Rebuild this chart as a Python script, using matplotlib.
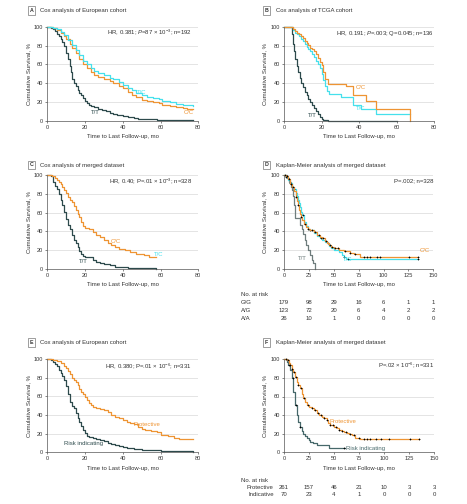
import numpy as np
import matplotlib
matplotlib.use("Agg")
import matplotlib.pyplot as plt
from matplotlib.transforms import blended_transform_factory

plt.rcParams['font.family'] = ['Liberation Sans', 'DejaVu Sans']
plt.rcParams['mathtext.fontset'] = 'custom'
plt.rcParams['mathtext.rm'] = 'Liberation Sans'
plt.rcParams['mathtext.it'] = 'Liberation Sans:italic'

# ---- Data ----
# Panel A: European cohort
a_tt_t = [0, 2, 3, 4, 5, 6, 7, 8, 9, 10, 11, 12, 12.5, 13, 14, 15, 16, 17, 18, 19, 20, 21, 22, 23, 25, 27,
          29, 31, 33, 35, 37, 40, 43, 46, 48, 52, 58, 63, 70, 77]
a_tt_s = [100, 99, 98, 96, 93, 90, 87, 84, 80, 72, 66, 58, 52, 45, 40, 37, 33, 30, 27, 24, 21, 19, 17, 16, 15, 13,
          11.5, 10, 8.5, 7, 6, 4.5, 3.5, 2.5, 2, 1.5, 1.2, 0.8, 0.4, 0.3]
a_cc_t = [0, 3, 5, 7, 9, 10, 12, 13, 15, 17, 19, 21, 23, 25, 27, 30, 33, 35, 38, 40, 43, 45, 47, 50, 53, 56,
          59, 61, 65, 68, 72, 74, 77]
a_cc_s = [100, 99, 97, 94, 90, 87, 82, 78, 72, 66, 60, 56, 52, 49, 47, 45, 42, 40, 37, 35, 31, 27, 25, 22, 21, 20,
          19, 17, 16, 15, 14, 12.5, 12.5]
a_tc_t = [0, 3, 5, 7, 9, 11, 13, 15, 17, 19, 21, 23, 25, 27, 30, 33, 35, 38, 40, 43, 45, 47, 50, 53, 56, 59,
          61, 65, 68, 72, 74, 77]
a_tc_s = [100, 99, 98, 95, 91, 86, 81, 75, 70, 64, 60, 56, 53, 51, 49, 46, 44, 41, 38, 35, 33, 30, 27, 25, 24, 23,
          21, 20, 18, 17, 16.5, 16]

# Panel B: TCGA cohort
b_tt_t = [0, 3.8, 4.2, 4.8, 5.4, 6, 6.8, 7.6, 8.4, 9.2, 10, 11, 12, 13, 14, 15, 16, 17, 18, 19, 20, 21, 22,
          23.5, 60]
b_tt_s = [100, 100, 93, 82, 74, 66, 58, 52, 46, 40, 36, 31, 27, 23, 20, 17, 14, 10, 7, 4, 2, 1, 0.5, 0, 0]
b_cc_t = [0, 4, 5, 6, 7, 8, 9, 10, 11, 12, 13, 14, 15, 16, 17, 18, 19, 20, 21, 22, 23.6, 33, 37, 43.5, 49.3,
          67.4]
b_cc_s = [100, 100, 98, 96, 94, 92, 90, 88, 85, 83, 81, 78, 76, 74, 71, 67, 63, 59, 52, 45, 39, 37, 27, 21, 13, 0]
b_tc_t = [0, 4, 5, 6, 7, 8, 9, 10, 11, 12, 13, 14, 15, 16, 17, 18, 19, 20, 21, 22, 23, 24, 30.5, 36.8, 41,
          49.2, 67.4]
b_tc_s = [100, 100, 97, 94, 92, 90, 87, 85, 82, 79, 77, 74, 71, 68, 64, 60, 56, 50, 43, 37, 32, 28, 25, 17, 12,
          7, 7]

# Panel C: merged dataset (Cox)
c_tt_t = [0, 2, 3, 4, 5, 6, 7, 8, 9, 10, 11, 12, 13, 14, 15, 16, 17, 18, 19, 20, 22, 24, 26, 28, 30, 33, 36,
          39, 43, 48, 53, 57.7]
c_tt_s = [100, 99, 93, 89, 85, 80, 74, 68, 61, 53, 47, 42, 36, 31, 27, 23, 19, 16, 14, 13, 12, 9, 7.5, 6, 5, 3.5,
          2, 1.5, 1, 0.6, 0.3, 0.2]
c_cc_t = [0, 2.5, 4, 5, 6, 7, 8, 9, 10, 11, 12, 13, 14, 15, 16, 17, 18, 19, 20, 22, 24, 26, 28, 30, 32, 34,
          36, 38, 41, 44, 47, 51, 54, 57.7]
c_cc_s = [100, 99, 97, 95, 93, 91, 88, 84, 81, 77, 74, 71, 67, 63, 59, 55, 50, 46, 44, 42, 39, 36, 34, 31, 28, 25,
          23, 21, 20, 18, 16, 15, 12.5, 12.5]

# Panel D: merged dataset (Kaplan-Meier)
d_tt_t = [0, 3, 5, 7, 8, 9, 10, 11, 16.5, 18, 19.5, 21, 22.5, 24, 26, 28, 29.5, 31.5]
d_tt_s = [100, 97, 93, 88, 84, 78, 68, 54, 47, 42, 37, 31, 25, 20, 15, 9, 6, 0]
d_cc_t = [0, 2, 4, 6, 8, 10, 12, 13, 14, 15, 16, 17, 18, 20, 22, 24, 26, 30, 33, 36, 38, 41, 43, 45, 47, 50,
          55, 60, 66, 70, 76, 135]
d_cc_s = [100, 99, 96, 91, 87, 83, 77, 73, 68, 63, 59, 55, 52, 48, 45, 43, 41.5, 39, 36, 34, 32.5, 30, 28, 25,
          23.5, 22, 20.5, 19, 17, 16, 13, 13]
d_tc_t = [0, 2, 4, 6, 8, 10, 12, 13, 14, 15, 16, 17, 18, 20, 22, 24, 26, 30, 33, 36, 38, 41, 43, 45, 47, 50,
          55, 58, 60, 62, 135]
d_tc_s = [100, 98, 95, 92, 88, 85, 81, 78, 74, 70, 66, 61, 57, 50, 46, 43, 41, 38.5, 35, 33, 31, 29, 27, 24, 22,
          20, 18, 15, 12, 10.5, 10.5]
d_cc_cens = [1, 3, 5, 7, 9, 12, 14, 17, 21, 24, 28, 31, 35, 39, 42, 46, 48, 51, 54, 61, 66, 71, 80, 83, 86, 93,
             96, 126, 135]
d_tc_cens = [2, 6, 10, 19, 26, 37, 44, 60, 64, 135]

d_risk_x = [0, 25, 50, 75, 100, 125, 150]
d_risk_rows = ['G/G', 'A/G', 'A/A']
d_risk_gg = [179, 98, 29, 16, 6, 1, 1]
d_risk_ag = [123, 72, 20, 6, 4, 2, 2]
d_risk_aa = [26, 10, 1, 0, 0, 0, 0]

# Panel E: European cohort, protective vs risk indicating
e_risk_t = [0, 2, 3, 4, 5, 6, 7, 8, 9, 10, 11, 12, 13, 14, 15, 16, 17, 18, 19, 20, 21, 22, 24, 26, 28, 30, 32,
            34, 36, 38, 40, 42, 44, 46, 50, 55, 60, 65, 70, 77]
e_risk_s = [100, 99, 97, 95, 92, 88, 85, 82, 77, 71, 63, 54, 50, 47, 42, 37, 32, 28, 24, 21, 18, 16, 15, 14, 13,
            12, 10, 9, 8, 7, 6, 5, 4.5, 3.5, 2.5, 2, 1.5, 1.2, 1, 0.8]
e_prot_t = [0, 3, 5, 7, 9, 10, 11, 12, 13, 14, 15, 16, 17, 18, 19, 20, 21, 22, 23, 24, 26, 28, 30, 32, 34, 36,
            38, 40, 42, 44, 46, 48, 50, 52, 55, 58, 60, 64, 67, 70, 77]
e_prot_s = [100, 99, 98, 96, 93, 90, 87, 84, 80, 77, 75, 72, 68, 65, 62, 59, 56, 53, 51, 49, 48, 46, 45, 43, 40,
            38, 37, 35, 33, 31, 30, 27, 25, 24, 23, 22, 19, 18, 15, 14, 14]

# Panel F: merged dataset, protective vs risk indicating
f_risk_t = [0, 3, 4.3, 6, 7.7, 9.3, 11, 12.7, 14.3, 16, 17.5, 19.3, 21, 22.7, 24.5, 26, 28.5, 31, 32.7, 45.3, 61]
f_risk_s = [100, 97, 94, 88.5, 80, 65, 51, 40, 33, 27.6, 23, 20, 17.5, 15.8, 13.5, 11.5, 10.5, 9.7, 7.9, 4.3, 4.3]
f_prot_t = [0, 3, 5, 6, 8, 9.3, 11, 12.7, 14, 16, 18, 19.3, 21, 22.7, 25, 27.7, 30, 32.7, 35, 37.7, 40, 42.7,
            44, 46, 50, 52.7, 55, 57.7, 60, 62.7, 65, 67.7, 71, 76, 135]
f_prot_s = [100, 99, 96, 94, 90, 86.7, 81, 76, 72, 69, 63, 58, 54, 51, 49, 48, 45, 42, 40, 38, 36.5, 35, 32, 29,
            27, 25.8, 24.5, 23, 21.5, 20.4, 19.5, 18.6, 15.8, 14.3, 14.3]
f_prot_cens = [2, 4, 6, 8, 10, 12, 14, 17, 20, 24, 28, 31, 34, 37, 40, 43, 46, 49, 52, 55, 58, 62, 66, 70, 75,
               80, 83, 86, 92, 97, 105, 126, 135]
f_risk_cens = [5, 9, 12, 16, 60]

f_risk_x = [0, 25, 50, 75, 100, 125, 150]
f_risk_rows = ['Protective', 'Indicative']
f_risk_prot = [261, 157, 46, 21, 10, 3, 3]
f_risk_ind = [70, 23, 4, 1, 0, 0, 0]

# ---- Style ----
ORANGE = '#EE9433'
CYAN = '#45E0EC'
DARK = '#2D4A4C'
GRAY = '#6F7D7D'
TEAL = '#46686A'
TXT = '#333333'
FS = 4.3
W, H = 467, 504

fig = plt.figure(figsize=(W / 100, H / 100), dpi=100)


def px_axes(left, right, top, bottom):
    # axes from pixel box (top-left origin)
    return fig.add_axes([left / W, 1 - bottom / H, (right - left) / W, (bottom - top) / H])


def fy(p):
    return 1 - p / H


def setup(ax, xmax, xstep):
    ax.set_xlim(0, xmax)
    ax.set_ylim(0, 100)
    ax.set_xticks(np.arange(0, xmax + 1, xstep))
    ax.set_yticks([0, 20, 40, 60, 80, 100])
    ax.grid(axis='y', color='#d9d9d9', lw=0.5)
    ax.set_axisbelow(True)
    for s in ['top', 'right']:
        ax.spines[s].set_visible(False)
    for s in ['left', 'bottom']:
        ax.spines[s].set_color('#555555')
        ax.spines[s].set_linewidth(0.5)
    ax.tick_params(length=1.5, width=0.5, labelsize=4.1, pad=1.5, colors='#555555', labelcolor=TXT)
    ax.set_ylabel('Cumulative Survival, %', fontsize=FS, color=TXT, labelpad=2)
    ax.set_xlabel('Time to Last Follow-up, mo', fontsize=FS, color=TXT, labelpad=3)


def curve(ax, t, s, color, cens=None):
    ax.step(t, s, where='post', color=color, lw=0.9, clip_on=False)
    if cens is not None:
        t = np.array(t)
        s = np.array(s)
        idx = np.searchsorted(t, cens, side='right') - 1
        ax.plot(cens, s[idx], '+', color='black', ms=1.8, mew=0.5, clip_on=False)


def title(xbox, y, letter, text):
    fig.text(xbox / W, fy(y), letter, fontsize=3.8, fontweight='bold', color=TXT, ha='center', va='center',
             bbox=dict(boxstyle='square,pad=0.35', fc='white', ec='#777777', lw=0.5))
    fig.text((xbox + 9) / W, fy(y), text, fontsize=FS, color=TXT, ha='left', va='center')


# ---- Panel A ----
ax = px_axes(47.3, 198.3, 27, 120.7)
setup(ax, 80, 20)
curve(ax, a_tt_t, a_tt_s, DARK)
curve(ax, a_cc_t, a_cc_s, ORANGE)
curve(ax, a_tc_t, a_tc_s, CYAN)
ax.text(50, 30, 'T/C', color=CYAN, fontsize=FS, ha='center', va='center')
ax.text(75, 8.5, 'C/C', color=ORANGE, fontsize=FS, ha='center', va='center')
ax.text(25.6, 8.5, 'T/T', color=DARK, fontsize=FS, ha='center', va='center')
ax.text(0.96, 0.947, r'HR, 0.381; $P$=87 × 10$^{-3}$; n=192', transform=ax.transAxes, fontsize=FS,
        color=TXT, ha='right', va='center')
title(31.5, 10.5, 'A', 'Cox analysis of European cohort')

# ---- Panel B ----
ax = px_axes(284, 434, 27, 120.7)
setup(ax, 80, 20)
curve(ax, b_tt_t, b_tt_s, DARK)
curve(ax, b_tc_t, b_tc_s, CYAN)
curve(ax, b_cc_t, b_cc_s, ORANGE)
ax.text(41, 35.6, 'C/C', color=ORANGE, fontsize=FS, ha='center', va='center')
ax.text(41, 12.5, 'T/C', color=CYAN, fontsize=FS, ha='center', va='center')
ax.text(15, 6, 'T/T', color=DARK, fontsize=FS, ha='center', va='center')
ax.text(1.0, 0.935, r'HR, 0.191; $P$=.003; Q=0.045; n=136', transform=ax.transAxes, fontsize=FS,
        color=TXT, ha='right', va='center')
title(266.5, 10.5, 'B', 'Cox analysis of TCGA cohort')

# ---- Panel C ----
ax = px_axes(47.3, 198.3, 175.3, 268.7)
setup(ax, 80, 20)
curve(ax, c_tt_t, c_tt_s, DARK)
curve(ax, c_cc_t, c_cc_s, ORANGE)
ax.text(36.3, 29, 'C/C', color=ORANGE, fontsize=FS, ha='center', va='center')
ax.text(19, 7.5, 'T/T', color=DARK, fontsize=FS, ha='center', va='center')
ax.text(58.8, 15, 'T/C', color=CYAN, fontsize=FS, ha='center', va='center')
ax.text(0.958, 0.94, r'HR, 0.40; P=.01 × 10$^{-3}$; n=328', transform=ax.transAxes, fontsize=FS,
        color=TXT, ha='right', va='center')
title(31.5, 165, 'C', 'Cox analysis of merged dataset')

# ---- Panel D ----
ax = px_axes(284, 433.3, 175.3, 268.7)
setup(ax, 150, 25)
curve(ax, d_tt_t, d_tt_s, GRAY)
curve(ax, d_tc_t, d_tc_s, CYAN, d_tc_cens)
curve(ax, d_cc_t, d_cc_s, ORANGE, d_cc_cens)
ax.text(141, 19, 'C/C', color=ORANGE, fontsize=FS, ha='center', va='center')
ax.text(63.6, 10, 'T/C', color=CYAN, fontsize=FS, ha='center', va='center')
ax.text(18.4, 10.7, 'T/T', color=GRAY, fontsize=FS, ha='center', va='center')
ax.text(1.0, 0.94, 'P=.002; n=328', transform=ax.transAxes, fontsize=FS, color=TXT, ha='right', va='center')
title(266.5, 165, 'D', 'Kaplan-Meier analysis of merged dataset')

# number at risk table D
tr = blended_transform_factory(ax.transData, fig.transFigure)
fig.text(241 / W, fy(295), 'No. at risk', fontsize=FS, color=TXT, ha='left', va='center')
for row, vals, yp in zip(d_risk_rows, [d_risk_gg, d_risk_ag, d_risk_aa], [303, 311, 318.7]):
    fig.text(241 / W, fy(yp), row, fontsize=FS, color=TXT, ha='left', va='center')
    for x, v in zip(d_risk_x, vals):
        ax.text(x, fy(yp), str(v), transform=tr, fontsize=FS, color=TXT, ha='center', va='center')

# ---- Panel E ----
ax = px_axes(47.3, 198.3, 359, 452.3)
setup(ax, 80, 20)
curve(ax, e_risk_t, e_risk_s, DARK)
curve(ax, e_prot_t, e_prot_s, ORANGE)
ax.text(52.8, 29.6, 'Protective', color=ORANGE, fontsize=FS, ha='center', va='center')
ax.text(19.4, 8.9, 'Risk indicating', color=DARK, fontsize=FS, ha='center', va='center')
ax.text(0.956, 0.928, r'HR, 0.380; P=.01 × 10$^{-6}$; n=331', transform=ax.transAxes, fontsize=FS,
        color=TXT, ha='right', va='center')
title(31.5, 342.3, 'E', 'Cox analysis of European cohort')

# ---- Panel F ----
ax = px_axes(284, 434, 359.3, 452.3)
setup(ax, 150, 25)
curve(ax, f_risk_t, f_risk_s, TEAL, f_risk_cens)
curve(ax, f_prot_t, f_prot_s, ORANGE, f_prot_cens)
ax.text(59.3, 33, 'Protective', color=ORANGE, fontsize=FS, ha='center', va='center')
ax.text(82, 4.3, 'Risk indicating', color=TEAL, fontsize=FS, ha='center', va='center')
ax.text(1.0, 0.94, r'P=.02 × 10$^{-6}$; n=331', transform=ax.transAxes, fontsize=FS, color=TXT,
        ha='right', va='center')
title(266.5, 342.3, 'F', 'Kaplan-Meier analysis of merged dataset')

# number at risk table F
tr = blended_transform_factory(ax.transData, fig.transFigure)
fig.text(241 / W, fy(480), 'No. at risk', fontsize=FS, color=TXT, ha='left', va='center')
for row, vals, yp in zip(f_risk_rows, [f_risk_prot, f_risk_ind], [487.7, 495]):
    fig.text(273.7 / W, fy(yp), row, fontsize=FS, color=TXT, ha='right', va='center')
    for x, v in zip(f_risk_x, vals):
        ax.text(x, fy(yp), str(v), transform=tr, fontsize=FS, color=TXT, ha='center', va='center')

fig.savefig('out.png', dpi=100)
